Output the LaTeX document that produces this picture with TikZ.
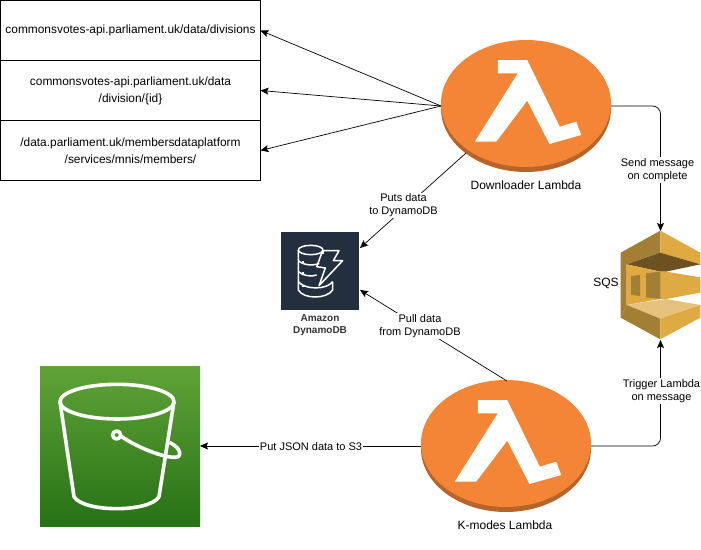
\documentclass[tikz,border=0pt]{standalone}
\usepackage{fontspec}
\setmainfont{Liberation Sans}
\usetikzlibrary{shapes}
\usetikzlibrary{arrows.meta}
\definecolor{lamtop}{HTML}{F58536}
\definecolor{lamside}{HTML}{B5652A}
\definecolor{dynbg}{HTML}{232F3E}
\definecolor{sqslight}{HTML}{E0AA42}
\definecolor{sqsdark}{HTML}{A37F35}
\definecolor{sqsdeep}{HTML}{6D5120}
\definecolor{sqspale}{HTML}{E6C27C}
\definecolor{bucktop}{HTML}{60A337}
\definecolor{buckbot}{HTML}{277116}
\tikzset{
  urlbox/.style={draw,rectangle,minimum width=260pt,minimum height=60pt,inner sep=0pt,outer sep=0pt,align=center,font=\fontsize{11.9}{17}\selectfont},
  lambdanode/.style={ellipse,minimum width=170pt,minimum height=132pt,inner sep=0pt,outer sep=0pt},
  conn/.style={line width=0.7pt,-{Stealth[length=8pt,width=7pt,inset=1.5pt]}},
  edgetext/.style={fill=white,inner sep=1pt,align=center,font=\fontsize{11}{13}\selectfont},
  plaintext/.style={inner sep=0pt,align=center,font=\fontsize{12}{14}\selectfont},
  iconline/.style={draw=white,line width=1.5pt,line join=round},
  bucketline/.style={draw=white,line width=3.6pt,line join=round}
}
\newcommand{\lambdaicon}{%
  \fill [lamside] (0,2.5) ellipse [x radius=85,y radius=63.5];
  \fill [lamtop] (0,-2.5) ellipse [x radius=85,y radius=63.5];
  \fill [white] (-28.2,-46) -- (1.2,-46) -- (33.8,20.7) -- (50.2,15.7) -- (55.2,29)
    -- (23.5,38) -- (1.2,-5.3) -- (-29.8,35.7) -- (-51.2,35.7) -- (-8.2,-32.7)
    -- (-28.2,-32.7) -- cycle;
}
\begin{document}
\begin{tikzpicture}[x=1pt,y=-1pt]
\useasboundingbox (0,0) rectangle (701,549);
%%%%%%%%%
\node [urlbox] (divisions) at (130.5,30.5) {commonsvotes-api.parliament.uk/data/divisions};
\node [urlbox] (division) at (130.5,90.5) {commonsvotes-api.parliament.uk/data\\/division/\{id\}};
\node [urlbox] (members) at (130.5,150.5) {/data.parliament.uk/membersdataplatform\\/services/mnis/members/};
%%%%%%%%%
\node [lambdanode] (downloader) at (526,106) {};
\begin{scope}[shift={(downloader.center)}]
\lambdaicon
\end{scope}
\node [plaintext] (downloadertext) at (526,185) {Downloader Lambda};
\node [lambdanode] (kmodes) at (506,446) {};
\begin{scope}[shift={(kmodes.center)}]
\lambdaicon
\end{scope}
\node [plaintext] (kmodestext) at (505,525) {K-modes Lambda};
%%%%%%%%% dynamodb
\node [rectangle,fill=dynbg,minimum size=78pt,inner sep=0pt,outer sep=0pt] (dynamo) at (320,270.5) {};
\begin{scope}[shift={(290,240)},x=0.3333pt,y=-0.3333pt]
\draw [iconline] (62,30) ellipse [x radius=37,y radius=14];
\draw [iconline] (25,30) -- (25,150) .. controls (40,178) and (110,178) .. (128,150) -- (128,125);
\draw [iconline] (99,30) -- (99,42);
\draw [iconline] (25,62) .. controls (40,76) and (70,78) .. (88,70);
\draw [iconline] (25,95) .. controls (40,109) and (66,110) .. (80,105);
\draw [iconline] (25,125) .. controls (45,150) and (110,150) .. (128,125);
\draw [iconline] (36,66) -- (42,66) (36,99) -- (42,99) (36,138) -- (42,138);
\draw [iconline] (98,32) -- (147,32) -- (130,62) -- (158,62) -- (87,137) -- (106,84) -- (80,80) -- cycle;
\end{scope}
\node [inner sep=0pt,align=center,font=\fontsize{10}{12}\selectfont\bfseries,text=black!80] (dynamotext) at (320,325) {Amazon\\DynamoDB};
%%%%%%%%% sqs
\node [rectangle,minimum width=80pt,minimum height=109pt,inner sep=0pt,outer sep=0pt] (sqs) at (660.5,285.5) {};
\begin{scope}[shift={(590,220)},x=0.3333pt,y=-0.3333pt]
\fill [sqsdark] (92,98) -- (211,32) -- (211,98) -- (110,133) -- (110,255) -- (92,293) -- cycle;
\fill [sqslight] (211,32) -- (331,98) -- (331,133) -- (211,98) -- cycle;
\fill [sqsdeep] (110,133) -- (211,98) -- (331,133) -- (228,155) -- (211,155) -- cycle;
\fill [sqslight] (110,133) -- (211,155) -- (228,155) -- (331,172) -- (331,218) -- (228,237) -- (211,237) -- (110,255) -- cycle;
\fill [sqsdark] (123,168) -- (150,165) -- (150,228) -- (123,225) -- cycle;
\fill [sqsdark] (168,160) -- (211,155) -- (211,237) -- (168,232) -- cycle;
\fill [sqspale] (110,255) -- (228,237) -- (331,255) -- (211,296) -- cycle;
\fill [sqsdark] (92,293) -- (110,255) -- (211,296) -- (211,358) -- cycle;
\fill [sqslight] (211,296) -- (331,255) -- (331,293) -- (211,358) -- cycle;
\end{scope}
\node [plaintext] (sqstext) at (606,283) {SQS};
%%%%%%%%% s3
\node [rectangle,top color=bucktop,bottom color=buckbot,minimum size=160pt,inner sep=0pt,outer sep=0pt] (bucket) at (120,446) {};
\begin{scope}[shift={(30,360)},x=0.3333pt,y=-0.3333pt]
\draw [bucketline] (261,125) ellipse [x radius=171,y radius=52];
\draw [bucketline] (90,125) -- (132,410) .. controls (160,458) and (360,458) .. (387,410) -- (432,125);
\draw [bucketline] (260,225) circle [radius=12];
\draw [bucketline] (272,228) .. controls (330,268) and (420,300) .. (445,290) .. controls (458,275) and (440,258) .. (418,247);
\end{scope}
%%%%%%%%% connectors
\coordinate (putsfrom) at (466,153);
\coordinate (putsto) at (360,248);
\coordinate (pullfrom) at (507,381);
\coordinate (pullto) at (360,290);
\draw [conn] (downloader.west) -- (divisions.east);
\draw [conn] (downloader.west) -- (division.east);
\draw [conn] (downloader.west) -- (members.east);
\draw [conn] (putsfrom) -- (putsto);
\draw [conn] (pullfrom) -- (pullto);
\draw [conn] (kmodes.west) -- (bucket.east);
\draw [conn,rounded corners=8pt] (downloader.east) -| (sqs.north);
\draw [conn,rounded corners=8pt] (kmodes.east) -| (sqs.south);
%%%%%%%%%
\node [edgetext] (putslabel) at (403.5,205.5) {Puts data\\to DynamoDB};
\node [edgetext] (pulllabel) at (420,326) {Pull data\\from DynamoDB};
\node [edgetext] (jsonlabel) at (311,447) {Put JSON data to S3};
\node [edgetext] (sendlabel) at (657.5,170) {Send message\\on complete};
\node [edgetext] (triggerlabel) at (661.5,391) {Trigger Lambda\\on message};
\end{tikzpicture}
\end{document}
